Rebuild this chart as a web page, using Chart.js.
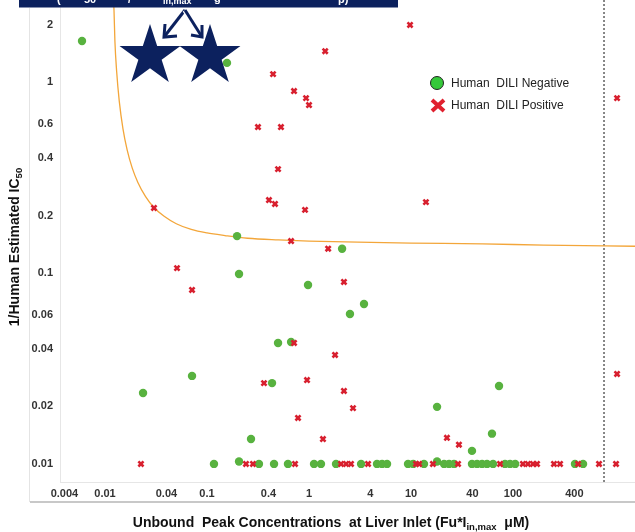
<!DOCTYPE html>
<html><head><meta charset="utf-8">
<script src="https://cdn.jsdelivr.net/npm/chart.js@4.4.1/dist/chart.umd.min.js"></script>
<style>html,body{margin:0;padding:0;background:#fff}#wrap{width:635px;height:532px;position:relative}</style>
</head><body><div id="wrap"><canvas id="c" width="635" height="532"></canvas></div>
<script>
// ---- data ----
const xTicks = [0.004, 0.01, 0.04, 0.1, 0.4, 1, 4, 10, 40, 100, 400];
const yTicks = [0.01, 0.02, 0.04, 0.06, 0.1, 0.2, 0.4, 0.6, 1, 2];

// Human DILI Negative
const negX = [0.00595, 0.157, 0.197, 0.206, 0.978, 2.11, 3.46, 2.52, 0.497, 0.667, 0.0713, 0.0236, 0.434, 72.9, 18.0, 0.27, 62.2, 39.6,
  0.117, 0.206, 0.323, 0.454, 0.622, 1.12, 1.31, 1.84, 3.24, 4.64, 5.20, 5.82, 9.35, 10.5, 13.4, 18.0, 21.1, 23.6, 26.4, 39.6, 44.4, 49.7, 55.6, 63.7, 83.5, 93.5, 105, 405, 486];
const negY = [1.64, 1.26, 0.156, 0.0988, 0.0865, 0.134, 0.0688, 0.061, 0.043, 0.0435, 0.0289, 0.0235, 0.0265, 0.0256, 0.0199, 0.0135, 0.0144, 0.0117,
  0.01, 0.0103, 0.01, 0.01, 0.01, 0.01, 0.01, 0.01, 0.01, 0.01, 0.01, 0.01, 0.01, 0.01, 0.01, 0.0103, 0.01, 0.01, 0.01, 0.01, 0.01, 0.01, 0.01, 0.01, 0.01, 0.01, 0.01, 0.01, 0.01];

// Human DILI Positive
const posX = [0.444, 0.713, 0.935, 1.0, 1.44, 0.316, 0.531, 0.497, 0.405, 0.464, 0.914, 14.0, 0.0302, 0.667, 9.78, 1047, 1047, 1.54, 0.0508, 0.0713, 2.20, 0.713, 1.80, 0.362, 0.956, 2.20, 2.70, 0.780, 1.37, 22.5, 29.5,
  0.0225, 0.241, 0.282, 0.729, 2.06, 2.31, 2.58, 3.79, 11.2, 12.0, 16.4, 28.9, 74.6, 125, 140, 157, 172, 252, 289, 434, 697, 1023];
const posY = [1.10, 0.897, 0.824, 0.758, 1.45, 0.581, 0.581, 0.350, 0.241, 0.230, 0.214, 0.235, 0.219, 0.147, 1.99, 0.824, 0.0296, 0.134, 0.106, 0.0815, 0.0897, 0.043, 0.0372, 0.0265, 0.0275, 0.0241, 0.0196, 0.0174, 0.0135, 0.0137, 0.0126,
  0.01, 0.01, 0.01, 0.01, 0.01, 0.01, 0.01, 0.01, 0.01, 0.01, 0.01, 0.01, 0.01, 0.01, 0.01, 0.01, 0.01, 0.01, 0.01, 0.01, 0.01, 0.01];

// orange threshold curve
const curveX = [0.0121, 0.01225, 0.0125, 0.013, 0.0138, 0.015, 0.0165, 0.0185, 0.021, 0.025, 0.03, 0.038, 0.05, 0.07, 0.1, 0.15, 0.25, 0.5, 1, 3, 10, 50, 200, 1570];
const curveY = [2.69, 2.38, 1.64, 1.14, 0.792, 0.569, 0.44, 0.354, 0.298, 0.251, 0.221, 0.198, 0.181, 0.169, 0.162, 0.157, 0.152, 0.149, 0.147, 0.145, 0.1435, 0.142, 0.140, 0.138];

// dashed vertical reference line
const vLineX = [780, 780];
const vLineY = [0.00804, 2.69];

const X_MIN = 0.00362, X_MAX = 1570, Y_MIN = 0.00804, Y_MAX = 2.69;

const toPts = (xs, ys) => xs.map((x, i) => ({x: x, y: ys[i]}));
const FONT = '"Liberation Sans", Arial, sans-serif';

const deco = {
  id: 'deco',
  beforeDraw(chart) {
    const c = chart.ctx;
    c.save();
    c.fillStyle = '#fff';
    c.fillRect(0, 0, chart.width, chart.height);
    c.strokeStyle = '#e4e4e4'; c.lineWidth = 1;
    c.beginPath(); c.moveTo(29.5, 8); c.lineTo(29.5, 502); c.stroke();
    c.strokeStyle = '#c8c8c8'; c.lineWidth = 2;
    c.beginPath(); c.moveTo(30, 502); c.lineTo(635, 502); c.stroke();
    c.restore();
  },
  afterDraw(chart) {
    const c = chart.ctx;
    c.save();
    // legend
    c.beginPath(); c.arc(437, 83, 6.5, 0, Math.PI * 2);
    c.fillStyle = '#35c83a'; c.fill(); c.strokeStyle = '#222'; c.lineWidth = 1; c.stroke();
    c.strokeStyle = '#e0202e'; c.lineWidth = 4; c.lineCap = 'butt';
    c.beginPath(); c.moveTo(432, 100); c.lineTo(444, 111); c.moveTo(444, 100); c.lineTo(432, 111); c.stroke();
    c.fillStyle = '#222'; c.font = '12px ' + FONT; c.textBaseline = 'middle'; c.textAlign = 'left';
    c.fillText('Human  DILI Negative', 451, 84);
    c.fillText('Human  DILI Positive', 451, 106);

    // axis titles
    c.fillStyle = '#111';
    const big = 'bold 14px ' + FONT, small = 'bold 9.5px ' + FONT;
    const p1 = 'Unbound  Peak Concentrations  at Liver Inlet (Fu*I', sb = 'in,max', p3 = '  \u03bcM)';
    c.font = big; const w1 = c.measureText(p1).width, w3 = c.measureText(p3).width;
    c.font = small; const w2 = c.measureText(sb).width;
    let x0 = 331 - (w1 + w2 + w3) / 2;
    c.textBaseline = 'alphabetic';
    c.font = big; c.fillText(p1, x0, 527);
    c.font = small; c.fillText(sb, x0 + w1, 530);
    c.font = big; c.fillText(p3, x0 + w1 + w2, 527);

    c.save();
    c.translate(19, 247); c.rotate(-Math.PI / 2);
    const q1 = '1/Human Estimated IC', q2 = '50';
    c.font = big; const v1 = c.measureText(q1).width;
    c.font = small; const v2 = c.measureText(q2).width;
    const s0 = -(v1 + v2) / 2;
    c.font = big; c.fillText(q1, s0, 0);
    c.font = small; c.fillText(q2, s0 + v1, 3);
    c.restore();

    // navy banner
    c.fillStyle = '#0c215e';
    c.fillRect(19, 0, 379, 7.5);
    c.fillStyle = '#fff'; c.font = 'bold 11px ' + FONT; c.textBaseline = 'alphabetic';
    c.save(); c.beginPath(); c.rect(19, 0, 379, 7.5); c.clip();
    c.fillText('(', 57, 3); c.fillText('50', 84, 3); c.fillText('/', 128, 3);
    c.font = 'bold 9px ' + FONT; c.fillText('in,max', 163, 4);
    c.font = 'bold 11px ' + FONT; c.fillText('g', 214, 2); c.fillText('p)', 338, 3);
    c.restore();

    // stars
    const star = (cx, cy, R) => {
      const r = R * 0.382;
      c.beginPath();
      for (let i = 0; i < 10; i++) {
        const a = -Math.PI / 2 + i * Math.PI / 5;
        const rr = i % 2 === 0 ? R : r;
        const px = cx + rr * Math.cos(a), py = cy + rr * Math.sin(a);
        if (i === 0) c.moveTo(px, py); else c.lineTo(px, py);
      }
      c.closePath(); c.fill();
    };
    c.fillStyle = '#0c215e';
    star(150, 56, 32); star(210, 56, 32);

    // arrows
    const arrow = (pts, head) => {
      c.lineJoin = 'miter'; c.lineCap = 'butt';
      [['#fff', 5.5], ['#0c215e', 3]].forEach(([col, lw]) => {
        c.strokeStyle = col; c.lineWidth = lw;
        c.beginPath(); c.moveTo(pts[0][0], pts[0][1]); for (let k = 1; k < pts.length; k++) c.lineTo(pts[k][0], pts[k][1]); c.stroke();
        c.beginPath(); c.moveTo(head[0][0], head[0][1]); c.lineTo(head[1][0], head[1][1]); c.lineTo(head[2][0], head[2][1]); c.stroke();
      });
    };
    arrow([[185, 10], [164, 37]], [[165, 24], [164, 37], [177, 36]]);
    arrow([[185, 10], [202, 37]], [[191, 35], [202, 37], [202, 25]]);
    c.restore();
  }
};

new Chart(document.getElementById('c'), {
  type: 'scatter',
  data: {
    datasets: [
      { label: 'Human DILI Positive', data: toPts(posX, posY), pointStyle: 'crossRot', pointRadius: 3.6,
        borderColor: '#d8202f', backgroundColor: '#d8202f', pointBorderWidth: 2.6, order: 1 },
      { label: 'Human DILI Negative', data: toPts(negX, negY), pointStyle: 'circle', pointRadius: 4.2,
        backgroundColor: '#58b23f', borderColor: '#58b23f', pointBorderWidth: 0, order: 2 },
      { label: 'curve', type: 'line', data: toPts(curveX, curveY), borderColor: '#f3a63a', borderWidth: 1.3,
        pointRadius: 0, cubicInterpolationMode: 'monotone', fill: false, order: 3 },
      { label: 'vline', type: 'line', data: toPts(vLineX, vLineY), borderColor: '#555', borderWidth: 1.4,
        borderDash: [2, 2], pointRadius: 0, fill: false, order: 4 }
    ]
  },
  options: {
    responsive: false, animation: false, devicePixelRatio: 1,
    layout: { padding: 0, autoPadding: false },
    plugins: { legend: { display: false }, tooltip: { enabled: false } },
    scales: {
      x: {
        type: 'logarithmic', min: X_MIN, max: X_MAX,
        grid: { display: false, drawTicks: false },
        border: { display: true, color: '#e6e6e6' },
        afterBuildTicks: s => { s.ticks = xTicks.map(v => ({ value: v })); },
        afterFit: s => { s.height = 50; s.paddingLeft = 0; s.paddingRight = 0; },
        ticks: { autoSkip: false, maxRotation: 0, padding: 5, color: '#333',
          font: { family: FONT, size: 11, weight: 'bold' }, callback: v => String(v) }
      },
      y: {
        type: 'logarithmic', min: Y_MIN, max: Y_MAX,
        grid: { display: false, drawTicks: false },
        border: { display: true, color: '#e6e6e6' },
        afterBuildTicks: s => { s.ticks = yTicks.map(v => ({ value: v })); },
        afterFit: s => { s.width = 60; s.paddingTop = 0; s.paddingBottom = 0; },
        ticks: { autoSkip: false, padding: 7, color: '#333',
          font: { family: FONT, size: 11, weight: 'bold' }, callback: v => String(v) }
      }
    }
  },
  plugins: [deco]
});
</script></body></html>
